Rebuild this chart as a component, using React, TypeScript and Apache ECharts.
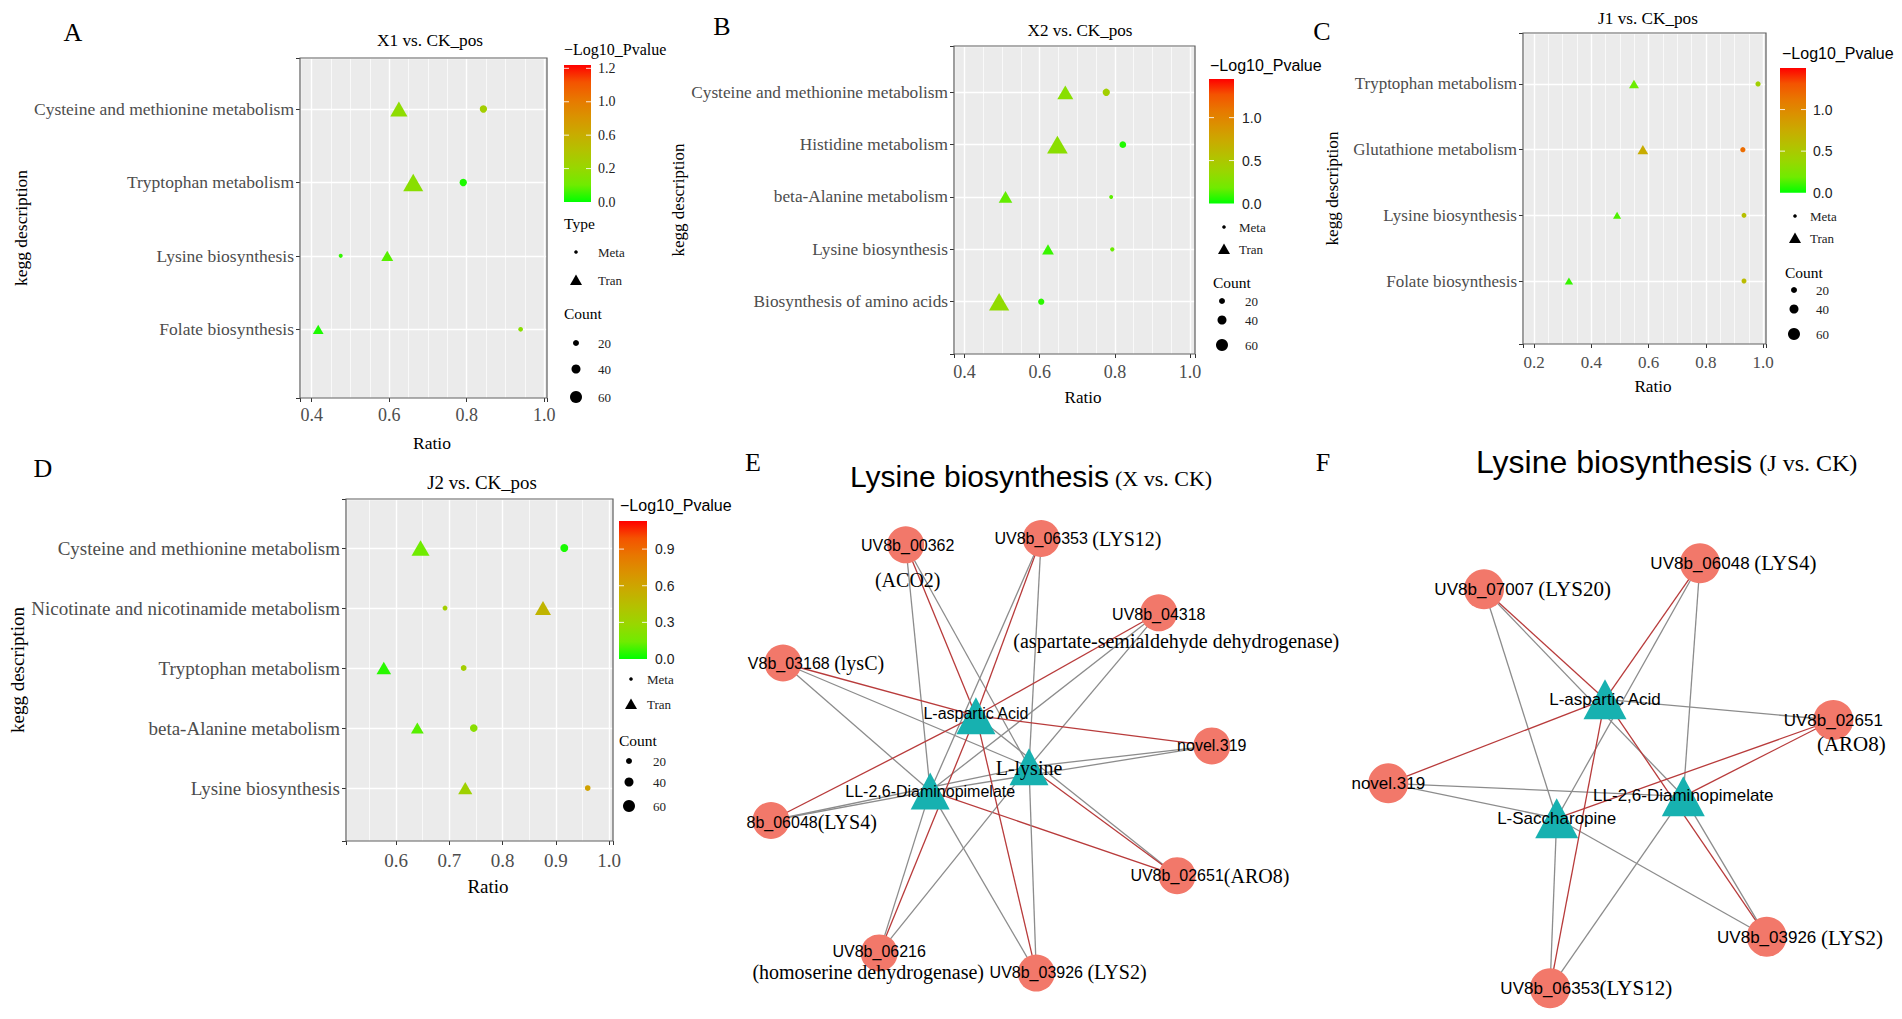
import React, { useEffect, useRef } from 'react';
import * as echarts from 'echarts';

const SERIF = '"Liberation Serif", "Times New Roman", Times, serif';
const SANS = '"Liberation Sans", Arial, Helvetica, sans-serif';

/* ================= DATA ================= */
// Panel A : X1 vs. CK_pos
const titleA = 'X1 vs. CK_pos';
const categoriesA = ['Cysteine and methionine metabolism', 'Tryptophan metabolism', 'Lysine biosynthesis', 'Folate biosynthesis'];
const metaRatioA = [0.843, 0.791, 0.475, 0.939];
const metaCountA = [29, 29, 7, 11];
const metaLogPA = [0.37, 0.04, 0.07, 0.25];
const tranRatioA = [0.625, 0.662, 0.595, 0.417];
const tranCountA = [65, 79, 39, 33];
const tranLogPA = [0.27, 0.25, 0.12, 0.04];
const cbTicksA = [0, 0.3, 0.6, 0.9, 1.2];
const cbLabelsA = ['0.0', '0.2', '0.6', '1.0', '1.2'];
const cbMaxA = 1.23;

// Panel B : X2 vs. CK_pos
const titleB = 'X2 vs. CK_pos';
const categoriesB = ['Cysteine and methionine metabolism', 'Histidine metabolism', 'beta-Alanine metabolism', 'Lysine biosynthesis', 'Biosynthesis of amino acids'];
const metaRatioB = [0.777, 0.821, 0.79, 0.793, 0.604];
const metaCountB = [29, 25, 6, 8, 22];
const metaLogPB = [0.43, 0.05, 0.15, 0.17, 0.07];
const tranRatioB = [0.668, 0.647, 0.509, 0.622, 0.492];
const tranCountB = [59, 82, 47, 38, 80];
const tranLogPB = [0.29, 0.3, 0.16, 0.09, 0.33];
const cbTicksB = [0, 0.5, 1.0];
const cbLabelsB = ['0.0', '0.5', '1.0'];
const cbMaxB = 1.45;

// Panel C : J1 vs. CK_pos
const titleC = 'J1 vs. CK_pos';
const categoriesC = ['Tryptophan metabolism', 'Glutathione metabolism', 'Lysine biosynthesis', 'Folate biosynthesis'];
const metaRatioC = [0.982, 0.929, 0.933, 0.933];
const metaCountC = [15, 15, 13, 13];
const metaLogPC = [0.44, 1.18, 0.59, 0.62];
const tranRatioC = [0.549, 0.58, 0.49, 0.322];
const tranCountC = [29, 33, 20, 21];
const tranLogPC = [0.18, 0.74, 0.13, 0.09];
const cbTicksC = [0, 0.5, 1.0];
const cbLabelsC = ['0.0', '0.5', '1.0'];
const cbMaxC = 1.5;

// Panel D : J2 vs. CK_pos
const titleD = 'J2 vs. CK_pos';
const categoriesD = ['Cysteine and methionine metabolism', 'Nicotinate and nicotinamide metabolism', 'Tryptophan metabolism', 'beta-Alanine metabolism', 'Lysine biosynthesis'];
const metaRatioD = [0.916, 0.692, 0.727, 0.746, 0.96];
const metaCountD = [33, 13, 19, 31, 18];
const metaLogPD = [0.03, 0.34, 0.34, 0.23, 0.62];
const tranRatioD = [0.646, 0.876, 0.577, 0.64, 0.73];
const tranCountD = [69, 59, 52, 43, 50];
const tranLogPD = [0.14, 0.51, 0.05, 0.11, 0.32];
const cbTicksD = [0, 0.3, 0.6, 0.9];
const cbLabelsD = ['0.0', '0.3', '0.6', '0.9'];
const cbMaxD = 1.13;

const typeLegend = ['Meta', 'Tran'];
const countLegend = [20, 40, 60];

// Panel E : Lysine biosynthesis (X vs. CK) network
const titleE = 'Lysine biosynthesis';
const subtitleE = '(X vs. CK)';
const nodeIdE = ['UV8b_00362', 'UV8b_06353', 'UV8b_04318', 'UV8b_03168', 'L-aspartic Acid', 'novel.319', 'L-lysine', 'LL-2,6-Diaminopimelate', 'UV8b_06048', 'UV8b_02651', 'UV8b_06216', 'UV8b_03926'];
const nodeKindE = ['gene', 'gene', 'gene', 'gene', 'metabolite', 'gene', 'metabolite', 'metabolite', 'gene', 'gene', 'gene', 'gene'];
const nodeXE = [185.7, 321.2, 438.8, 63, 255.9, 491.8, 309, 210.2, 51, 457.1, 159.2, 316.3];
const nodeYE = [104.8, 98.5, 172.8, 223, 275.7, 305.9, 326.8, 351.1, 380.5, 435.7, 512.9, 533.1];
const geneNoteE = {
  UV8b_00362: '(ACO2)', UV8b_06353: '(LYS12)', UV8b_04318: '(aspartate-semialdehyde dehydrogenase)',
  UV8b_03168: '(lysC)', UV8b_06048: '(LYS4)', UV8b_02651: '(ARO8)',
  UV8b_06216: '(homoserine dehydrogenase)', UV8b_03926: '(LYS2)',
};
const edgesE = [
  ['UV8b_00362', 'L-aspartic Acid', 'red'], ['UV8b_00362', 'LL-2,6-Diaminopimelate', 'gray'], ['UV8b_00362', 'L-lysine', 'gray'],
  ['UV8b_06353', 'L-aspartic Acid', 'red'], ['UV8b_06353', 'LL-2,6-Diaminopimelate', 'gray'], ['UV8b_06353', 'L-lysine', 'gray'],
  ['UV8b_04318', 'L-aspartic Acid', 'red'], ['UV8b_04318', 'LL-2,6-Diaminopimelate', 'gray'], ['UV8b_04318', 'L-lysine', 'gray'],
  ['UV8b_03168', 'L-aspartic Acid', 'red'], ['UV8b_03168', 'LL-2,6-Diaminopimelate', 'gray'], ['UV8b_03168', 'L-lysine', 'gray'],
  ['novel.319', 'L-aspartic Acid', 'red'], ['novel.319', 'LL-2,6-Diaminopimelate', 'gray'], ['novel.319', 'L-lysine', 'gray'],
  ['UV8b_06048', 'L-aspartic Acid', 'red'], ['UV8b_06048', 'LL-2,6-Diaminopimelate', 'gray'], ['UV8b_06048', 'L-lysine', 'gray'],
  ['UV8b_02651', 'L-aspartic Acid', 'gray'], ['UV8b_02651', 'LL-2,6-Diaminopimelate', 'red'], ['UV8b_02651', 'L-lysine', 'red'],
  ['UV8b_06216', 'L-aspartic Acid', 'red'], ['UV8b_06216', 'LL-2,6-Diaminopimelate', 'gray'], ['UV8b_06216', 'L-lysine', 'gray'],
  ['UV8b_03926', 'L-aspartic Acid', 'red'], ['UV8b_03926', 'LL-2,6-Diaminopimelate', 'gray'], ['UV8b_03926', 'L-lysine', 'gray'],
];

// Panel F : Lysine biosynthesis (J vs. CK) network
const titleF = 'Lysine biosynthesis';
const subtitleF = '(J vs. CK)';
const nodeIdF = ['UV8b_07007', 'UV8b_06048', 'L-aspartic Acid', 'UV8b_02651', 'novel.319', 'LL-2,6-Diaminopimelate', 'L-Saccharopine', 'UV8b_03926', 'UV8b_06353'];
const nodeKindF = ['gene', 'gene', 'metabolite', 'gene', 'gene', 'metabolite', 'metabolite', 'gene', 'gene'];
const nodeXF = [114, 330, 235, 463.3, 18.3, 313.3, 186.7, 396.7, 180];
const nodeYF = [69.3, 43.3, 179.3, 200, 263.3, 276.3, 298.3, 416.7, 468.3];
const geneNoteF = {
  UV8b_07007: '(LYS20)', UV8b_06048: '(LYS4)', UV8b_02651: '(ARO8)', UV8b_03926: '(LYS2)', UV8b_06353: '(LYS12)',
};
const edgesF = [
  ['UV8b_07007', 'L-aspartic Acid', 'red'], ['UV8b_07007', 'LL-2,6-Diaminopimelate', 'gray'], ['UV8b_07007', 'L-Saccharopine', 'gray'],
  ['UV8b_06048', 'L-aspartic Acid', 'red'], ['UV8b_06048', 'LL-2,6-Diaminopimelate', 'gray'], ['UV8b_06048', 'L-Saccharopine', 'gray'],
  ['UV8b_02651', 'L-aspartic Acid', 'gray'], ['UV8b_02651', 'LL-2,6-Diaminopimelate', 'red'], ['UV8b_02651', 'L-Saccharopine', 'red'],
  ['novel.319', 'L-aspartic Acid', 'red'], ['novel.319', 'LL-2,6-Diaminopimelate', 'gray'], ['novel.319', 'L-Saccharopine', 'gray'],
  ['UV8b_03926', 'L-aspartic Acid', 'red'], ['UV8b_03926', 'LL-2,6-Diaminopimelate', 'gray'], ['UV8b_03926', 'L-Saccharopine', 'gray'],
  ['UV8b_06353', 'L-aspartic Acid', 'red'], ['UV8b_06353', 'LL-2,6-Diaminopimelate', 'gray'], ['UV8b_06353', 'L-Saccharopine', 'gray'],
];

/* ================= STYLE / LAYOUT ================= */
const GRADIENT = ['#00FF00', '#70EB00', '#98D700', '#B3C200', '#C9AB00', '#DA9200', '#E87700', '#F45300', '#FF0000'];
const PANEL_BG = '#EBEBEB';
const BORDER = '#5E5E5E';
const LABEL_GRAY = '#4D4D4D';
const EDGE_RED = '#B83B3B';
const EDGE_GRAY = '#8C8C8C';
const GENE_COLOR = '#F2786A';
const METAB_COLOR = '#17B1B0';

const PANEL_LAYOUT = [
  {
    letter: 'A', letterXY: [73, 32], titleXY: [430, 40], titleSize: 17.3,
    grid: { left: 300, top: 58, width: 247, height: 340 },
    xRange: [0.37, 1.007], yRange: [0.064, 4.695], step: 0.2, minorSplit: 4,
    catSize: 17.5, tickSize: 18, nameSize: 17.5, xLabelMargin: 8, xNameGap: 36, yNameGap: 266,
    leg: {
      sans: false, titleXY: [564, 49], bar: [564, 65, 27, 137], labelX: 598, typeTitleXY: [564, 223],
      glyphX: 576, typeTextX: 598, metaY: 252, tranY: 280,
      countTitleXY: [564, 313], countGlyphX: 576, countTextX: 598, countY: [343, 369, 397],
    },
  },
  {
    letter: 'B', letterXY: [722, 26], titleXY: [1080, 30], titleSize: 17.1,
    grid: { left: 954, top: 46, width: 241, height: 308 },
    xRange: [0.372, 1.013], yRange: [0, 5.885], step: 0.2, minorSplit: 4,
    catSize: 17.3, tickSize: 18, nameSize: 17, xLabelMargin: 8.5, xNameGap: 34.5, yNameGap: 260,
    leg: {
      sans: true, titleXY: [1210, 65], bar: [1209, 79, 25, 124.5], labelX: 1242, typeTitleXY: null,
      glyphX: 1224, typeTextX: 1239, metaY: 227, tranY: 249,
      countTitleXY: [1213, 282], countGlyphX: 1222, countTextX: 1245, countY: [301, 320, 345],
    },
  },
  {
    letter: 'C', letterXY: [1322, 31], titleXY: [1648, 18], titleSize: 17.2,
    grid: { left: 1523, top: 33, width: 243, height: 311 },
    xRange: [0.1616, 1.0098], yRange: [0.041, 4.776], step: 0.2, minorSplit: 4,
    catSize: 17, tickSize: 17, nameSize: 17.2, xLabelMargin: 9.5, xNameGap: 33.5, yNameGap: 182,
    leg: {
      sans: true, titleXY: [1782, 53], bar: [1780, 68, 26, 124.7], labelX: 1813, typeTitleXY: null,
      glyphX: 1795, typeTextX: 1810, metaY: 216, tranY: 238,
      countTitleXY: [1785, 272], countGlyphX: 1794, countTextX: 1816, countY: [290, 309, 334],
    },
  },
  {
    letter: 'D', letterXY: [43, 468], titleXY: [482, 482], titleSize: 18.9,
    grid: { left: 346, top: 499, width: 267, height: 342 },
    xRange: [0.506, 1.0075], yRange: [0.117, 5.817], step: 0.1, minorSplit: 2,
    catSize: 19, tickSize: 19, nameSize: 19, xLabelMargin: 9.5, xNameGap: 36, yNameGap: 307,
    leg: {
      sans: true, titleXY: [620, 505], bar: [619, 521, 28, 138], labelX: 655, typeTitleXY: null,
      glyphX: 631, typeTextX: 647, metaY: 679, tranY: 704,
      countTitleXY: [619, 740], countGlyphX: 629, countTextX: 653, countY: [761, 782, 806],
    },
  },
];

const NET_LAYOUT = {
  E: {
    origin: [720, 440], letter: 'E', letterXY: [753, 462], titleXY: [850, 476], titleSize: 30, subSize: 22, subGap: 6, subDy: 2,
    circle: 37, tri: [39, 37], sansSize: 16, serifSize: 20,
    labels: {
      UV8b_00362: { mode: 'stack', lh: 34, shift2: 0, dx: 2, dy: 17.7 },
      UV8b_06353: { mode: 'inline', sep: ' ', dy: 0 },
      UV8b_04318: { mode: 'stack', lh: 26, shift2: 17.5, dy: 14.8 },
      UV8b_03168: { mode: 'inline', sep: ' ', clip: 'U', dy: 0 },
      'L-aspartic Acid': { mode: 'center', dy: -2 },
      'novel.319': { mode: 'center', dy: 0 },
      'L-lysine': { mode: 'center', serif: true, dy: 1 },
      'LL-2,6-Diaminopimelate': { mode: 'center', dy: 0 },
      UV8b_06048: { mode: 'inline', sep: '', clip: 'UV', dy: 1.5 },
      UV8b_02651: { mode: 'inline', sep: '', dy: 0 },
      UV8b_06216: { mode: 'stack', lh: 20, shift2: -11, dy: 8.9 },
      UV8b_03926: { mode: 'inline', sep: ' ', dy: -1 },
    },
  },
  F: {
    origin: [1370, 520], letter: 'F', letterXY: [1323, 462], titleXY: [1476, 462], titleSize: 32, subSize: 24, subGap: 7, subDy: 1,
    circle: 40, tri: [43, 40], sansSize: 17, serifSize: 21,
    labels: {
      UV8b_07007: { mode: 'inline', sep: ' ', dy: 0 },
      UV8b_06048: { mode: 'inline', sep: ' ', dy: 0 },
      'L-aspartic Acid': { mode: 'center', dy: 0 },
      UV8b_02651: { mode: 'stack', lh: 24, shift2: 18, dy: 12 },
      'novel.319': { mode: 'center', dy: 0 },
      'LL-2,6-Diaminopimelate': { mode: 'center', dy: -1 },
      'L-Saccharopine': { mode: 'center', dy: 0 },
      UV8b_03926: { mode: 'inline', sep: ' ', dy: 1 },
      UV8b_06353: { mode: 'inline', sep: '', dy: 0 },
    },
  },
};

/* ================= helpers ================= */
const circleD = (count: number) => 3 + 0.15 * count;
const triSize = (count: number) => [1.35 * circleD(count), 1.17 * circleD(count)];

function makeMeasurer() {
  const c = document.createElement('canvas');
  const ctx = c.getContext('2d') as CanvasRenderingContext2D;
  return (text: string, font: string) => {
    ctx.font = font;
    return ctx.measureText(text).width;
  };
}

function buildOption() {
  const tw = makeMeasurer();
  const panels = [
    { title: titleA, cats: categoriesA, meta: [metaRatioA, metaCountA, metaLogPA], tran: [tranRatioA, tranCountA, tranLogPA], cb: [cbTicksA, cbLabelsA, cbMaxA] },
    { title: titleB, cats: categoriesB, meta: [metaRatioB, metaCountB, metaLogPB], tran: [tranRatioB, tranCountB, tranLogPB], cb: [cbTicksB, cbLabelsB, cbMaxB] },
    { title: titleC, cats: categoriesC, meta: [metaRatioC, metaCountC, metaLogPC], tran: [tranRatioC, tranCountC, tranLogPC], cb: [cbTicksC, cbLabelsC, cbMaxC] },
    { title: titleD, cats: categoriesD, meta: [metaRatioD, metaCountD, metaLogPD], tran: [tranRatioD, tranCountD, tranLogPD], cb: [cbTicksD, cbLabelsD, cbMaxD] },
  ];

  const grids: any[] = [];
  const xAxes: any[] = [];
  const yAxes: any[] = [];
  const series: any[] = [];
  const visualMaps: any[] = [];
  const g: any[] = [];

  const text = (x: number, y: number, t: string, font: string, fill = '#000', align = 'left', va = 'middle', z = 20) => {
    g.push({
      type: 'text', x, y, z, silent: true,
      style: { text: t, font, fill, textAlign: align, textVerticalAlign: va, align, verticalAlign: va },
    });
  };

  panels.forEach((p, i) => {
    const L: any = PANEL_LAYOUT[i];
    const n = p.cats.length;
    const step = L.step;
    grids.push({ ...L.grid, show: true, backgroundColor: PANEL_BG, borderWidth: 0, containLabel: false, outerBoundsMode: 'none' });
    xAxes.push({
      type: 'value', gridIndex: i, min: L.xRange[0], max: L.xRange[1], minInterval: step, maxInterval: step,
      axisLine: { show: false },
      axisTick: { show: true, length: 4, lineStyle: { color: '#333', width: 1 } },
      axisLabel: {
        margin: L.xLabelMargin, fontFamily: SERIF, fontSize: L.tickSize, color: LABEL_GRAY,
        formatter: (v: number) => {
          const k = Math.round(v / step);
          return Math.abs(v - k * step) < 1e-6 ? (k * step).toFixed(1) : '';
        },
      },
      splitLine: { show: true, lineStyle: { color: '#FFFFFF', width: 1.4 } },
      minorTick: { show: false, splitNumber: L.minorSplit },
      minorSplitLine: { show: true, lineStyle: { color: '#FFFFFF', width: 0.7 } },
      name: 'Ratio', nameLocation: 'middle', nameGap: L.xNameGap,
      nameTextStyle: { fontFamily: SERIF, fontSize: L.nameSize, color: '#000', padding: [0, 0, 0, 17] },
    });
    yAxes.push({
      type: 'value', gridIndex: i, min: L.yRange[0], max: L.yRange[1], minInterval: 1, maxInterval: 1,
      axisLine: { show: false },
      axisTick: { show: true, length: 4, lineStyle: { color: '#333', width: 1 } },
      axisLabel: {
        margin: 6, fontFamily: SERIF, fontSize: L.catSize, color: LABEL_GRAY,
        formatter: (v: number) => {
          const k = Math.round(v);
          if (Math.abs(v - k) > 1e-6 || k < 1 || k > n) return '';
          return p.cats[n - k];
        },
      },
      splitLine: { show: true, lineStyle: { color: '#FFFFFF', width: 1.4 } },
      name: 'kegg description', nameLocation: 'middle', nameGap: L.yNameGap,
      nameTextStyle: { fontFamily: SERIF, fontSize: L.nameSize, color: '#000' },
    });

    const toData = (arr: number[][]) => arr[0].map((r, j) => [r, n - j, arr[1][j], arr[2][j]]);
    series.push({
      type: 'scatter', name: 'Meta', xAxisIndex: i, yAxisIndex: i, symbol: 'circle', silent: true, z: 3,
      symbolSize: (v: number[]) => circleD(v[2]), itemStyle: { opacity: 1 }, data: toData(p.meta),
    });
    series.push({
      type: 'scatter', name: 'Tran', xAxisIndex: i, yAxisIndex: i, symbol: 'triangle', silent: true, z: 3,
      symbolSize: (v: number[]) => triSize(v[2]), itemStyle: { opacity: 1 }, data: toData(p.tran),
    });
    const cbMax = p.cb[2] as number;
    visualMaps.push({
      type: 'continuous', show: false, seriesIndex: [2 * i, 2 * i + 1], dimension: 3, min: 0, max: cbMax,
      inRange: { color: GRADIENT },
    });

    // panel border
    g.push({ type: 'rect', z: 6, silent: true, shape: { x: L.grid.left, y: L.grid.top, width: L.grid.width, height: L.grid.height }, style: { fill: 'none', stroke: BORDER, lineWidth: 1.2 } });
    // panel letter & title
    text(L.letterXY[0], L.letterXY[1], L.letter, `26px ${SERIF}`, '#000', 'center');
    text(L.titleXY[0], L.titleXY[1], p.title, `${L.titleSize}px ${SERIF}`, '#000', 'center');

    // legend
    const lg = L.leg;
    const legTitleFont = lg.sans ? `16px ${SANS}` : `16px ${SERIF}`;
    text(lg.titleXY[0], lg.titleXY[1], '\u2212Log10_Pvalue', legTitleFont, '#000');
    const [bx, by, bw, bh] = lg.bar;
    g.push({
      type: 'rect', z: 5, silent: true, shape: { x: bx, y: by, width: bw, height: bh },
      style: { fill: { type: 'linear', x: 0, y: 1, x2: 0, y2: 0, colorStops: GRADIENT.map((c, k) => ({ offset: k / (GRADIENT.length - 1), color: c })) } },
    });
    const ticks = p.cb[0] as number[];
    const tickLabels = p.cb[1] as string[];
    ticks.forEach((t, k) => {
      const yy = by + bh - (t / cbMax) * bh;
      if (t > 0) {
        g.push({ type: 'line', z: 6, silent: true, shape: { x1: bx, y1: yy, x2: bx + 5, y2: yy }, style: { stroke: 'rgba(255,255,255,0.85)', lineWidth: 1 } });
        g.push({ type: 'line', z: 6, silent: true, shape: { x1: bx + bw - 5, y1: yy, x2: bx + bw, y2: yy }, style: { stroke: 'rgba(255,255,255,0.85)', lineWidth: 1 } });
      }
      text(lg.labelX, yy, tickLabels[k], lg.sans ? `14px ${SANS}` : `14px ${SERIF}`, '#222');
    });
    if (lg.typeTitleXY) text(lg.typeTitleXY[0], lg.typeTitleXY[1], 'Type', `15.5px ${SERIF}`, '#000');
    g.push({ type: 'circle', z: 6, silent: true, shape: { cx: lg.glyphX, cy: lg.metaY, r: 1.8 }, style: { fill: '#000' } });
    g.push({ type: 'polygon', z: 6, silent: true, shape: { points: [[lg.glyphX, lg.tranY - 5.5], [lg.glyphX + 6, lg.tranY + 5], [lg.glyphX - 6, lg.tranY + 5]] }, style: { fill: '#000' } });
    text(lg.typeTextX, lg.metaY, typeLegend[0], `13px ${SERIF}`, '#222');
    text(lg.typeTextX, lg.tranY, typeLegend[1], `13px ${SERIF}`, '#222');
    text(lg.countTitleXY[0], lg.countTitleXY[1], 'Count', `15.5px ${SERIF}`, '#000');
    countLegend.forEach((c, k) => {
      g.push({ type: 'circle', z: 6, silent: true, shape: { cx: lg.countGlyphX, cy: lg.countY[k], r: circleD(c) / 2 }, style: { fill: '#000' } });
      text(lg.countTextX, lg.countY[k], String(c), `13px ${SERIF}`, '#222');
    });
  });

  // ---------- networks ----------
  const buildNet = (ids: string[], kinds: string[], xs: number[], ys: number[], notes: any, edges: any[], N: any, title: string, subtitle: string) => {
    const minX = Math.min(...xs), maxX = Math.max(...xs), minY = Math.min(...ys), maxY = Math.max(...ys);
    const sansFont = `${N.sansSize}px ${SANS}`;
    const baseRich = {
      a: { fontFamily: SANS, fontSize: N.sansSize, color: '#000' },
      b: { fontFamily: SERIF, fontSize: N.serifSize, color: '#000' },
    };
    const mkLabel = (id: string) => {
      const s = N.labels[id] || { mode: 'center', dy: 0 };
      const common = { show: true, position: 'inside', verticalAlign: 'middle', color: '#000', fontFamily: SANS, fontSize: N.sansSize };
      if (s.mode === 'inline') {
        const shown = s.clip ? id.slice(s.clip.length) : id;
        const left = -tw(id, sansFont) / 2 + (s.clip ? tw(s.clip, sansFont) : 0);
        return { ...common, align: 'left', offset: [left + (s.dx || 0), s.dy || 0], formatter: `{a|${shown}${s.sep}}{b|${notes[id]}}`, rich: baseRich };
      }
      if (s.mode === 'stack') {
        const pad = s.shift2 >= 0 ? [0, 0, 0, 2 * s.shift2] : [0, -2 * s.shift2, 0, 0];
        return {
          ...common, align: 'center', offset: [s.dx || 0, s.dy || 0], formatter: `{a|${id}}\n{b|${notes[id]}}`,
          rich: { a: { ...baseRich.a, lineHeight: s.lh, align: 'center' }, b: { ...baseRich.b, lineHeight: s.lh, padding: pad, align: 'center' } },
        };
      }
      return { ...common, align: 'center', offset: [s.dx || 0, s.dy || 0], formatter: `{${s.serif ? 'b' : 'a'}|${id}}`, rich: baseRich };
    };
    series.push({
      type: 'graph', layout: 'none', silent: true, roam: false, z: 4,
      left: N.origin[0] + minX, top: N.origin[1] + minY, width: maxX - minX, height: maxY - minY,
      lineStyle: { opacity: 1, width: 1.3, curveness: 0 },
      emphasis: { disabled: true },
      label: { show: true, position: 'inside' },
      data: ids.map((id, k) => ({
        name: id, x: xs[k], y: ys[k],
        symbol: kinds[k] === 'metabolite' ? 'triangle' : 'circle',
        symbolSize: kinds[k] === 'metabolite' ? N.tri : N.circle,
        itemStyle: { color: kinds[k] === 'metabolite' ? METAB_COLOR : GENE_COLOR, opacity: 1 },
        label: mkLabel(id),
      })),
      links: edges.map((e) => ({ source: e[0], target: e[1], lineStyle: { color: e[2] === 'red' ? EDGE_RED : EDGE_GRAY, width: 1.3, opacity: 1 } })),
    });
    text(N.letterXY[0], N.letterXY[1], N.letter, `26px ${SERIF}`, '#000', 'center');
    const tFont = `${N.titleSize}px ${SANS}`;
    text(N.titleXY[0], N.titleXY[1], title, tFont, '#000', 'left');
    text(N.titleXY[0] + tw(title, tFont) + N.subGap, N.titleXY[1] + N.subDy, subtitle, `${N.subSize}px ${SERIF}`, '#000', 'left');
  };
  buildNet(nodeIdE, nodeKindE, nodeXE, nodeYE, geneNoteE, edgesE, NET_LAYOUT.E, titleE, subtitleE);
  buildNet(nodeIdF, nodeKindF, nodeXF, nodeYF, geneNoteF, edgesF, NET_LAYOUT.F, titleF, subtitleF);

  return {
    animation: false,
    backgroundColor: '#FFFFFF',
    textStyle: { fontFamily: SERIF },
    grid: grids,
    xAxis: xAxes,
    yAxis: yAxes,
    visualMap: visualMaps,
    series,
    graphic: { elements: g },
  };
}

export default function App() {
  const ref = useRef<HTMLDivElement>(null);
  useEffect(() => {
    const el = ref.current as HTMLDivElement;
    const chart = echarts.init(el, undefined, { renderer: 'svg', width: 1902, height: 1019 });
    chart.setOption(buildOption() as any);
    return () => {
      chart.dispose();
    };
  }, []);
  return <div ref={ref} style={{ position: 'fixed', left: 0, top: 0, width: 1902, height: 1019, background: '#fff' }} />;
}
